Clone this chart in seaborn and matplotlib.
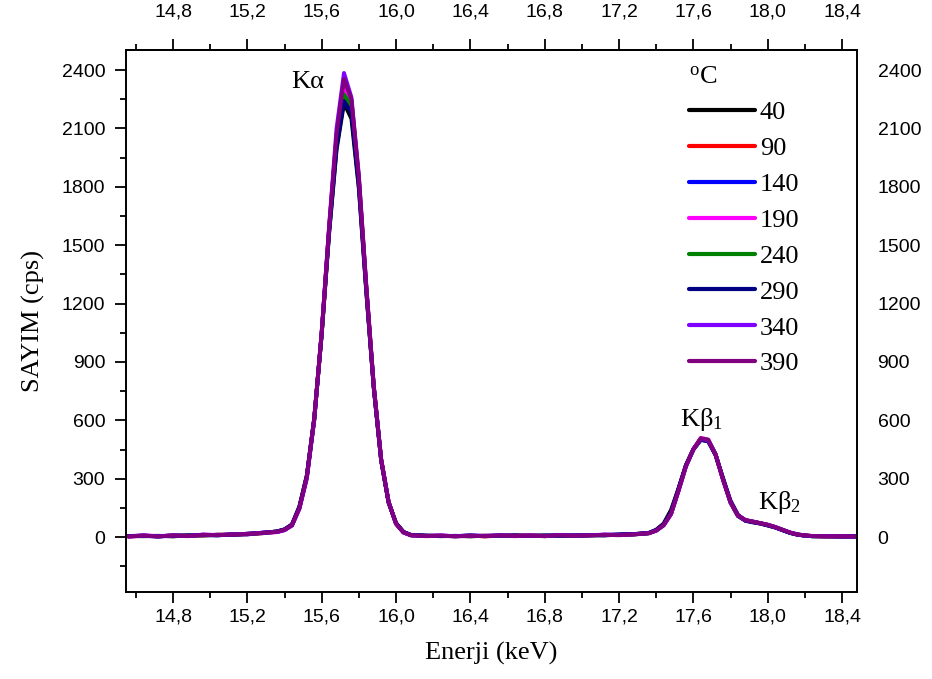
import matplotlib
matplotlib.use("Agg")
import matplotlib.pyplot as plt
import pandas as pd
import seaborn as sns
from matplotlib.ticker import MultipleLocator, FuncFormatter

# ---------------- data ----------------
energy = [14.56, 14.64, 14.72, 14.80, 14.88, 14.96, 15.04, 15.12, 15.20, 15.28, 15.36,
          15.40, 15.44, 15.48, 15.52, 15.56, 15.60, 15.64, 15.68, 15.72, 15.76, 15.80,
          15.84, 15.88, 15.92, 15.96, 16.00, 16.04, 16.08,
          16.16, 16.24, 16.32, 16.40, 16.48, 16.56, 16.64, 16.72, 16.80, 16.88, 16.96,
          17.04, 17.12, 17.20, 17.28, 17.36,
          17.40, 17.44, 17.48, 17.52, 17.56, 17.60, 17.64, 17.68, 17.72, 17.76, 17.80,
          17.84, 17.88, 17.92, 17.96, 18.00, 18.04, 18.08, 18.12, 18.16, 18.20, 18.24,
          18.32, 18.40, 18.48]

temps = ["40", "90", "140", "190", "240", "290", "340", "390"]

c40 = [6, 5, 7, 4, 10, 8, 13, 11, 18, 20, 30,
       40, 66, 158, 318, 612, 1040, 1560, 1990, 2230, 2150, 1790, 1260, 770, 395, 178, 72, 27, 12,
       8, 5, 7, 4, 8, 6, 10, 7, 9, 6, 8, 11, 9, 13, 16, 22,
       38, 70, 140, 250, 370, 450, 500, 492, 420, 300, 178, 108, 85, 78, 70, 60, 50, 36, 22, 13, 8, 5,
       5, 3, 4]
c90 = [3, 7, 5, 8, 7, 10, 12, 13, 15, 21, 27,
       37, 60, 148, 305, 605, 1045, 1585, 2060, 2340, 2240, 1840, 1285, 778, 398, 181, 69, 24, 11,
       5, 7, 5, 8, 4, 8, 7, 9, 6, 9, 8, 10, 11, 12, 15, 21,
       35, 63, 122, 242, 366, 450, 505, 498, 422, 296, 180, 110, 87, 79, 71, 63, 51, 37, 23, 14, 9, 6,
       4, 4, 3]
c140 = [5, 6, 4, 7, 8, 11, 9, 15, 14, 23, 29,
        39, 61, 152, 312, 608, 1048, 1575, 2020, 2260, 2200, 1820, 1275, 772, 396, 179, 71, 26, 10,
        7, 6, 5, 9, 6, 7, 8, 6, 7, 8, 9, 10, 10, 13, 15, 21,
        36, 64, 126, 246, 368, 452, 502, 495, 424, 298, 178, 111, 86, 79, 72, 62, 51, 37, 23, 13, 8, 5,
        5, 4, 4]
c190 = [4, 9, 6, 8, 5, 13, 11, 12, 17, 21, 26,
        36, 63, 149, 309, 611, 1052, 1588, 2050, 2300, 2230, 1835, 1280, 776, 401, 182, 70, 25, 9,
        6, 8, 5, 6, 7, 8, 5, 9, 6, 11, 6, 9, 13, 11, 14, 20,
        34, 61, 119, 238, 364, 453, 510, 502, 426, 294, 181, 113, 88, 81, 72, 64, 53, 38, 24, 15, 9, 6,
        4, 5, 3]
c240 = [5, 7, 4, 9, 7, 11, 10, 14, 16, 22, 28,
        38, 62, 151, 311, 607, 1049, 1580, 2035, 2275, 2215, 1828, 1278, 775, 398, 180, 71, 25, 10,
        6, 7, 5, 7, 5, 8, 6, 8, 6, 9, 7, 9, 11, 11, 14, 20,
        34, 62, 121, 241, 366, 451, 506, 499, 424, 296, 180, 112, 87, 80, 72, 63, 52, 38, 23, 14, 9, 5,
        4, 5, 3]
c290 = [6, 8, 5, 8, 7, 12, 11, 13, 17, 22, 29,
        40, 64, 155, 314, 609, 1044, 1570, 2005, 2240, 2180, 1805, 1268, 768, 394, 178, 72, 27, 11,
        8, 7, 6, 8, 6, 9, 7, 7, 8, 9, 8, 10, 12, 14, 16, 21,
        37, 66, 128, 248, 369, 451, 500, 494, 422, 302, 188, 115, 84, 76, 70, 61, 50, 36, 22, 13, 8, 5,
        5, 4, 4]
c340 = [3, 9, 4, 10, 6, 13, 11, 15, 17, 23, 27,
        36, 60, 145, 300, 600, 1055, 1600, 2100, 2385, 2260, 1860, 1295, 782, 402, 183, 68, 24, 10,
        6, 9, 5, 8, 6, 10, 6, 9, 5, 11, 8, 10, 13, 11, 15, 21,
        33, 60, 118, 236, 362, 450, 505, 497, 424, 293, 179, 111, 87, 80, 72, 64, 52, 38, 24, 14, 9, 6,
        5, 5, 3]
c390 = [4, 8, 3, 9, 6, 12, 10, 14, 16, 22, 28,
        38, 62, 150, 310, 610, 1050, 1590, 2070, 2355, 2250, 1850, 1290, 780, 400, 180, 70, 25, 10,
        6, 8, 4, 7, 5, 9, 6, 8, 5, 10, 7, 9, 12, 10, 14, 20,
        34, 62, 120, 240, 365, 452, 508, 500, 425, 295, 180, 112, 88, 80, 72, 64, 52, 38, 24, 14, 9, 6,
        4, 5, 3]

series = [c40, c90, c140, c190, c240, c290, c340, c390]
colors = ["#000000", "#FF0000", "#0000FF", "#FF00FF", "#008000", "#000080", "#8000FF", "#800080"]

x_major_ticks = [14.8, 15.2, 15.6, 16.0, 16.4, 16.8, 17.2, 17.6, 18.0, 18.4]
y_major_ticks = [0, 300, 600, 900, 1200, 1500, 1800, 2100, 2400]

# ---------------- styling ----------------
sns.set_style("ticks")
plt.rcParams["font.family"] = ["Liberation Serif", "DejaVu Serif"]
plt.rcParams["mathtext.fontset"] = "custom"
plt.rcParams["mathtext.rm"] = "Liberation Serif"
plt.rcParams["mathtext.it"] = "Liberation Serif:italic"
plt.rcParams["mathtext.bf"] = "Liberation Serif:bold"
for k in ["text.color", "axes.labelcolor", "xtick.color", "ytick.color", "axes.edgecolor"]:
    plt.rcParams[k] = "black"

df = pd.DataFrame({
    "Energy": [e for _ in temps for e in energy],
    "Counts": [v for s in series for v in s],
    "T": [t for t in temps for _ in energy],
})

fig = plt.figure(figsize=(9.32, 6.79), dpi=100)
ax = fig.add_axes([0.1352, 0.1286, 0.9192 - 0.1352, 0.9264 - 0.1286])

sns.lineplot(data=df, x="Energy", y="Counts", hue="T", hue_order=temps,
             palette=colors, sort=False, estimator=None, lw=2.8, ax=ax)

ax.set_xlim(14.547, 18.479)
ax.set_ylim(-280, 2503)
ax.set_xticks(x_major_ticks)
ax.set_yticks(y_major_ticks)
ax.xaxis.set_minor_locator(MultipleLocator(0.2))
ax.yaxis.set_minor_locator(MultipleLocator(150))
comma_fmt = FuncFormatter(lambda v, p: f"{v:.1f}".replace(".", ","))
ax.xaxis.set_major_formatter(comma_fmt)

for sp in ax.spines.values():
    sp.set_visible(True)
    sp.set_linewidth(1.4)
    sp.set_color("black")

TICK_FS = 14
ax.tick_params(axis="both", which="major", direction="out", length=8, width=1.3,
               labelsize=TICK_FS, colors="black")
ax.tick_params(axis="both", which="minor", direction="out", length=4.5, width=1.3)
ax.tick_params(axis="x", which="both", top=False, labeltop=False, bottom=True)
ax.tick_params(axis="x", which="major", pad=4)
ax.tick_params(axis="y", which="both", left=True, right=False, labelright=True)
ax.tick_params(axis="y", which="major", pad=7)
for t in ax.xaxis.get_major_ticks() + ax.yaxis.get_major_ticks():
    t.label1.set_fontfamily("Liberation Sans")
    t.label2.set_fontfamily("Liberation Sans")

# top axis with the same energy scale
sec = ax.secondary_xaxis("top")
sec.set_xticks(x_major_ticks)
sec.xaxis.set_minor_locator(MultipleLocator(0.2))
sec.xaxis.set_major_formatter(comma_fmt)
sec.spines["top"].set_linewidth(1.4)
sec.tick_params(axis="x", which="major", direction="out", length=8, width=1.3,
                labelsize=TICK_FS, pad=13, colors="black")
sec.tick_params(axis="x", which="minor", direction="out", length=4.5, width=1.3)
for t in sec.xaxis.get_major_ticks():
    t.label1.set_fontfamily("Liberation Sans")
    t.label2.set_fontfamily("Liberation Sans")

ax.set_xlabel("Enerji (keV)", fontsize=19, labelpad=12)
ax.set_ylabel("SAYIM (cps)", fontsize=19, labelpad=12)

# peak labels
ax.text(15.527, 2337, "Kα", fontsize=19, ha="center", va="center")
ax.text(17.645, 605, r"Kβ$_{1}$", fontsize=19, ha="center", va="center")
ax.text(18.065, 180, r"Kβ$_{2}$", fontsize=19, ha="center", va="center")

handles, labels = ax.get_legend_handles_labels()
leg = ax.legend(handles, labels, title=r"$^{\rm o}$C", fontsize=19, title_fontsize=19,
                frameon=False, loc="upper left", bbox_to_anchor=(0.752, 0.994),
                handlelength=2.5, handletextpad=0.2, labelspacing=0.47,
                borderpad=0.0, alignment="left")
for ln in leg.get_lines():
    ln.set_linewidth(3.0)

fig.savefig("out.png", dpi=100)
